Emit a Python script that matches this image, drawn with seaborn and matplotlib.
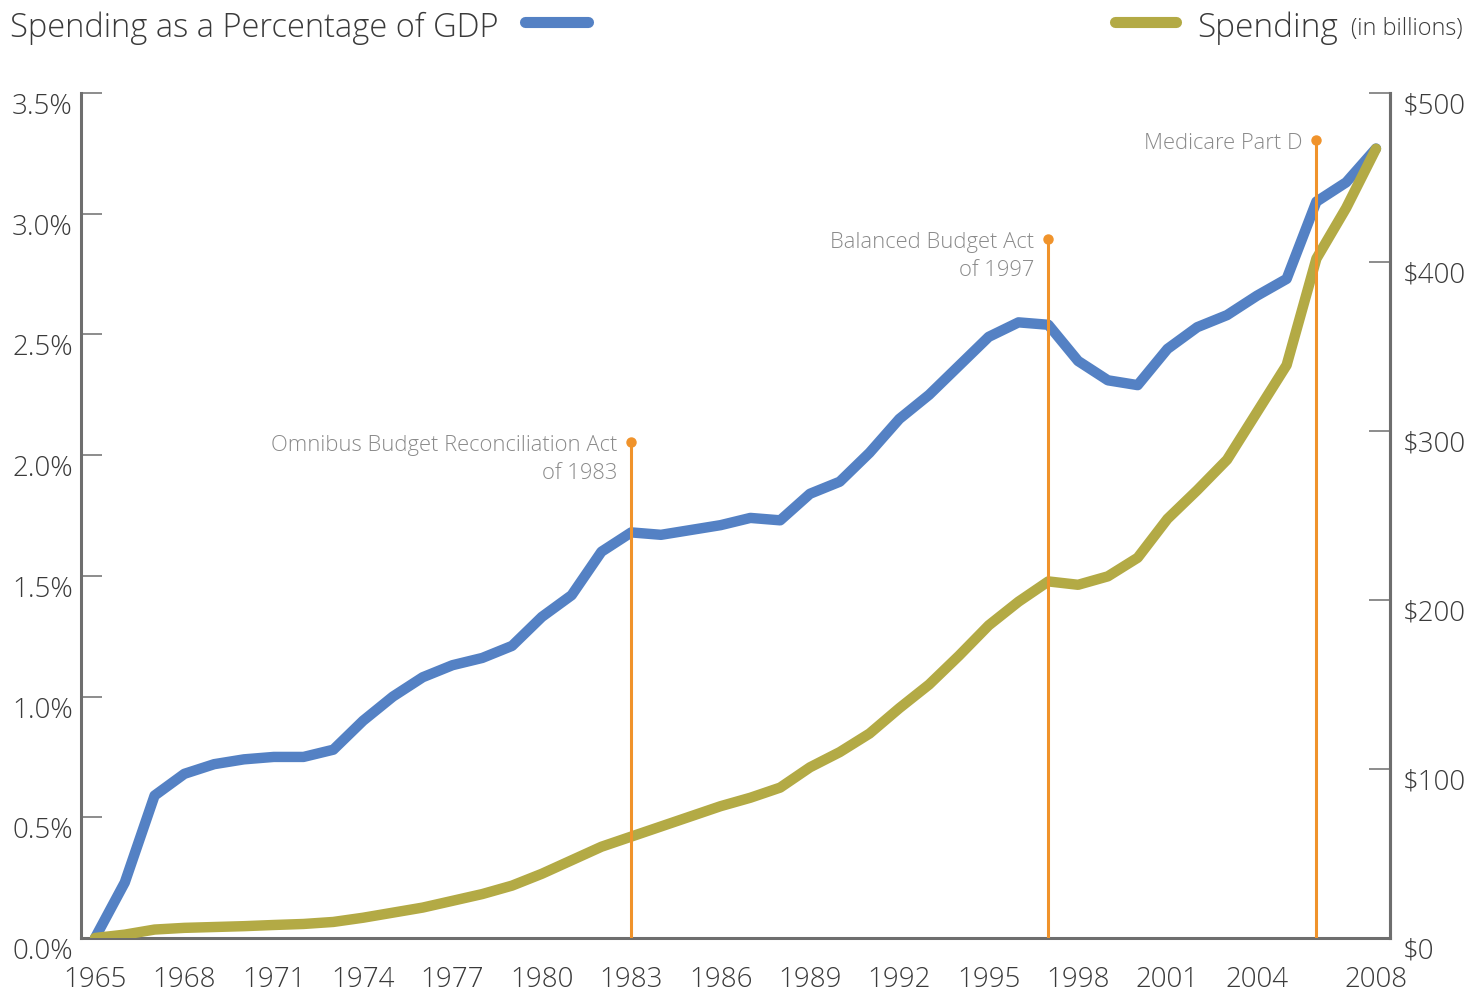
import matplotlib
matplotlib.use("Agg")
import matplotlib.pyplot as plt
from matplotlib.lines import Line2D
from matplotlib.ticker import FixedLocator
import pandas as pd
import seaborn as sns

years = list(range(1965, 2009))
pct_gdp = [0.00, 0.23, 0.59, 0.68, 0.72, 0.74, 0.75, 0.75, 0.78, 0.90,
           1.00, 1.08, 1.13, 1.16, 1.21, 1.33, 1.42, 1.60, 1.68, 1.67,
           1.69, 1.71, 1.74, 1.73, 1.84, 1.89, 2.01, 2.15, 2.25, 2.37,
           2.49, 2.55, 2.54, 2.39, 2.31, 2.29, 2.44, 2.53, 2.58, 2.66,
           2.73, 3.05, 3.13, 3.27]
spending = [0, 2, 5, 6, 6.5, 7, 7.7, 8.3, 9.5, 12,
            15, 18, 22, 26, 31, 38, 46, 54, 60, 66,
            72, 78, 83, 89, 101, 110, 121, 136, 150, 167,
            185, 199, 211, 209, 214, 225, 248, 265, 283, 311,
            339, 402, 432, 467]

event_years = [1983, 1997, 2006]
event_tops = [2.055, 2.896, 3.306]
event_labels = ["Omnibus Budget Reconciliation Act\nof 1983",
                "Balanced Budget Act\nof 1997",
                "Medicare Part D"]

x_tick_labels = {1965: "1965", 1968: "1968", 1971: "1971", 1974: "1974", 1977: "1977",
                 1980: "1980", 1983: "1983", 1986: "1986", 1989: "1989", 1992: "1992",
                 1995: "1995", 1998: "1998", 2001: "2001", 2004: "2004", 2008: "2008"}
left_ticks = [0, 0.5, 1.0, 1.5, 2.0, 2.5, 3.0, 3.5]
right_ticks = [0, 100, 200, 300, 400, 500]

BLUE = "#5481c4"
OLIVE = "#b3aa45"
ORANGE = "#f0932b"
AXIS_GRAY = "#6e6e6e"
TEXT = "#3a3a3a"
NOTE_GRAY = "#8a8a8a"

sns.set_style("white")
plt.rcParams["font.family"] = ["Open Sans", "DejaVu Sans"]
plt.rcParams["font.weight"] = 300

df = pd.DataFrame({"year": years, "pct": pct_gdp, "spend": spending})

fig = plt.figure(figsize=(14.66, 9.91), dpi=100)
ax1 = fig.add_axes([81 / 1466, 1 - 938 / 991, (1390 - 81) / 1466, (938 - 93) / 991])
ax2 = ax1.twinx()

# Синяя линия на левой оси, оливковая - на правой (поверх синей)
sns.lineplot(data=df, x="year", y="pct", ax=ax1, color=BLUE, linewidth=7.5,
             solid_capstyle="round")
sns.lineplot(data=df, x="year", y="spend", ax=ax2, color=OLIVE, linewidth=7.5,
             solid_capstyle="round")

# Вертикальные линии событий рисуем на верхней оси, но в координатах левой
for yr, top, label in zip(event_years, event_tops, event_labels):
    ax2.vlines(yr, 0, top, color=ORANGE, linewidth=2.2, zorder=6,
               transform=ax1.transData)
    ax2.plot([yr], [top], marker="o", markersize=6.5, color=ORANGE, zorder=6,
             transform=ax1.transData, clip_on=False)
    ax2.annotate(label, xy=(yr, top), xycoords=ax1.transData,
                 xytext=(-10, 5), textcoords="offset points",
                 ha="right", va="top", fontsize=15.8, color=NOTE_GRAY,
                 multialignment="right", linespacing=1.45, zorder=7)

ax1.set_xlim(1964.53, 2008.47)
ax1.set_ylim(0, 3.5)
ax2.set_ylim(0, 500)

ax1.xaxis.set_major_locator(FixedLocator(years))
ax1.set_xticklabels([x_tick_labels.get(y, "") for y in years])
ax1.yaxis.set_major_locator(FixedLocator(left_ticks))
ax1.set_yticklabels([f"{v:.1f}%" for v in left_ticks])
ax2.yaxis.set_major_locator(FixedLocator(right_ticks))
ax2.set_yticklabels([f"${v}" for v in right_ticks])

ax1.set_xlabel("")
ax1.set_ylabel("")
ax2.set_ylabel("")

for ax in (ax1, ax2):
    ax.spines["top"].set_visible(False)
    for side in ("left", "right", "bottom"):
        ax.spines[side].set_color(AXIS_GRAY)
        ax.spines[side].set_linewidth(2.2)
    ax.tick_params(direction="in", length=15, width=1.1, color=AXIS_GRAY,
                   labelsize=20, labelcolor=TEXT)
ax1.tick_params(axis="x", pad=20)
ax1.tick_params(axis="y", pad=6)
ax2.tick_params(axis="y", pad=9)
ax2.spines["left"].set_visible(False)
ax2.spines["bottom"].set_visible(False)

for lab in ax1.get_yticklabels() + ax2.get_yticklabels():
    lab.set_verticalalignment("top")

# Заголовки-легенды сверху
fig.text(10 / 1466, 1 - 37 / 991, "Spending as a Percentage of GDP", fontsize=23.5,
         color=TEXT, ha="left", va="baseline")
fig.add_artist(Line2D([525 / 1466, 588 / 1466], [1 - 22 / 991] * 2, color=BLUE,
                      linewidth=8, solid_capstyle="round"))
fig.add_artist(Line2D([1115 / 1466, 1176 / 1466], [1 - 22 / 991] * 2, color=OLIVE,
                      linewidth=8, solid_capstyle="round"))
fig.text(1197 / 1466, 1 - 37 / 991, "Spending", fontsize=24, color=TEXT,
         ha="left", va="baseline")
fig.text(1463 / 1466, 1 - 35 / 991, "(in billions)", fontsize=16.8, color=TEXT,
         ha="right", va="baseline")

fig.savefig("out.png", dpi=100)
